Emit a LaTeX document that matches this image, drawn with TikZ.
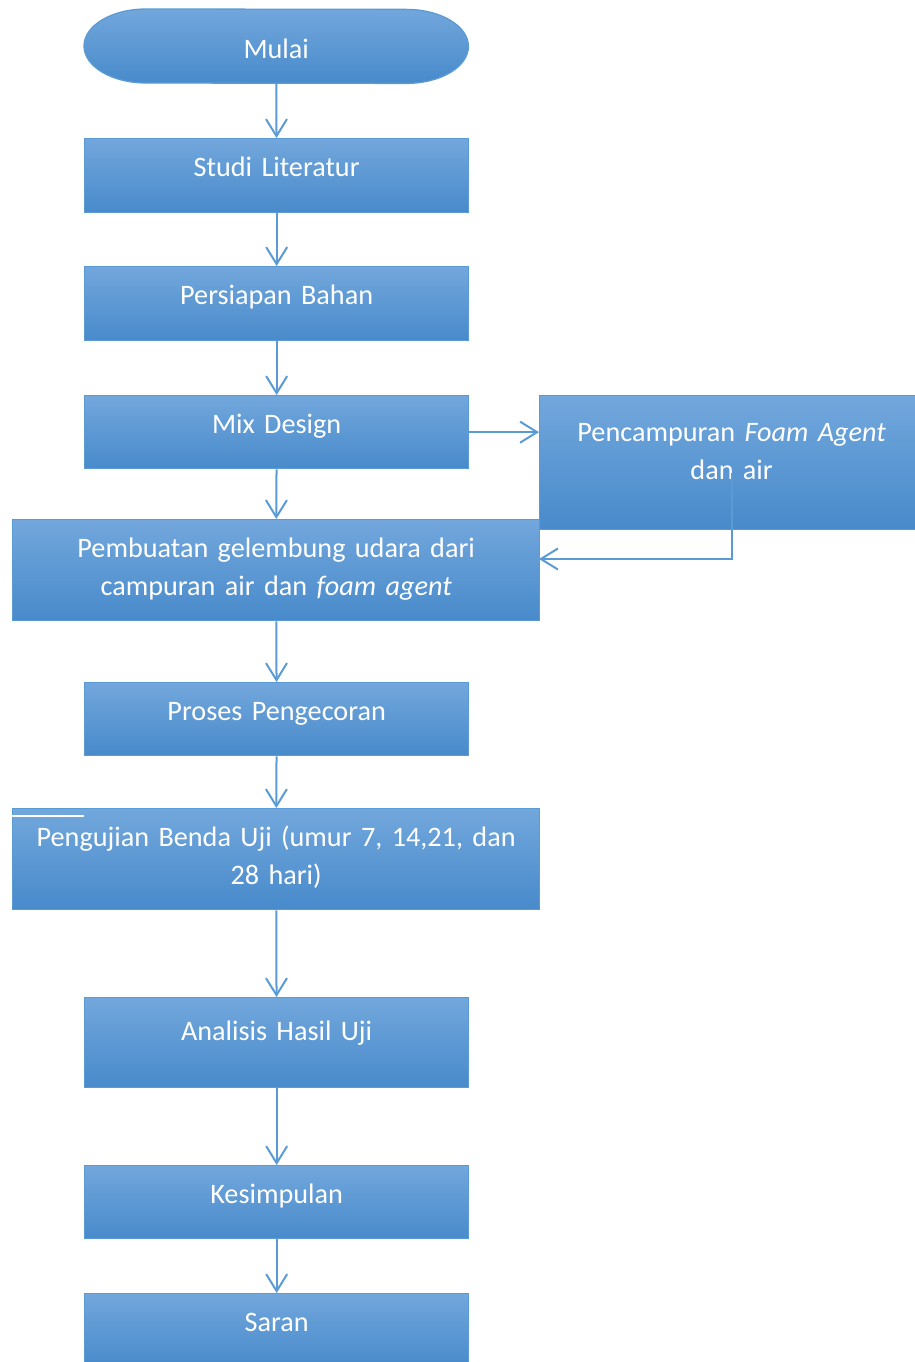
\documentclass[tikz,border=0pt]{standalone}
\usepackage{fontspec}
\setmainfont{Carlito}
\usetikzlibrary{arrows.meta}
\usetikzlibrary{backgrounds}

\definecolor{garis}{RGB}{91,155,213}
\definecolor{atas}{RGB}{114,167,220}
\definecolor{tengah}{RGB}{91,155,213}
\definecolor{bawah}{RGB}{72,138,203}

\tikzset{
  isi/.style={anchor=north west, inner sep=0pt, align=center, text=white,
    font=\fontsize{28.2}{38}\selectfont},
  blok/.style={isi, draw=garis, line width=1.3pt,
    top color=atas, middle color=tengah, bottom color=bawah},
  sempit/.style={blok, minimum width=384pt, text width=370pt},
  lebar/.style={blok, minimum width=527pt, text width=513pt},
  tinggi/.style 2 args={text height=#1, text depth=#2},
  panah/.style={draw=garis, line width=2pt,
    -{Straight Barb[length=17pt,width=21pt]}}
}

\begin{document}
\begin{tikzpicture}[x=1pt,y=-1pt]
\useasboundingbox (0,0) rectangle (915,1362);
\node[isi, minimum width=384pt, text width=370pt, tinggi={49pt}{25pt}] (mulai) at (84,9) {Mulai};
\begin{scope}[on background layer]
\path[draw=garis, line width=1.3pt, top color=atas, middle color=tengah, bottom color=bawah]
  ([xshift=62pt]mulai.north west) arc[start angle=90,end angle=270,x radius=62pt,y radius=37pt]
  -- ([xshift=-62pt]mulai.south east) arc[start angle=-90,end angle=90,x radius=62pt,y radius=37pt]
  -- cycle;
\end{scope}
\node[sempit, tinggi={38pt}{36pt}] (studi) at (84,138) {Studi Literatur};
\node[sempit, tinggi={38pt}{36pt}] (siap) at (84,266) {Persiapan Bahan};
\node[sempit, tinggi={38pt}{35pt}] (mix) at (84,395) {Mix Design};
\node[sempit, tinggi={46pt}{88pt}] (campur) at (539,395) {Pencampuran \textit{Foam Agent}\\dan air};
\node[lebar, tinggi={38pt}{63pt}] (buat) at (12,519) {Pembuatan gelembung udara dari\\campuran air dan \textit{foam agent}};
\node[sempit, tinggi={38pt}{35pt}] (proses) at (84,682) {Proses Pengecoran};
\node[lebar, tinggi={38pt}{63pt}] (uji) at (12,808) {Pengujian Benda Uji (umur 7, 14,21, dan\\28 hari)};
\node[sempit, tinggi={43pt}{47pt}] (analisis) at (84,997) {Analisis Hasil Uji};
\node[sempit, tinggi={38pt}{35pt}] (simpul) at (84,1165) {Kesimpulan};
\node[sempit, tinggi={38pt}{35pt}] (saran) at (84,1293) {Saran};
\coordinate (balik) at (539,559);
\draw[white, line width=2pt] ([yshift=-8pt]uji.north west) -- ++(72,0);
\draw[panah] (mulai) -- (studi);
\draw[panah] (studi) -- (siap);
\draw[panah] (siap) -- (mix);
\draw[panah] (mix) -- (buat);
\draw[panah] (mix.east) -- (mix.east -| campur.west);
\draw[panah] ([yshift=-10pt]campur.center) |- (balik);
\draw[panah] (buat) -- (proses);
\draw[panah] (proses) -- (uji);
\draw[panah] (uji) -- (analisis);
\draw[panah] (analisis) -- (simpul);
\draw[panah] (simpul) -- (saran);
\end{tikzpicture}
\end{document}
